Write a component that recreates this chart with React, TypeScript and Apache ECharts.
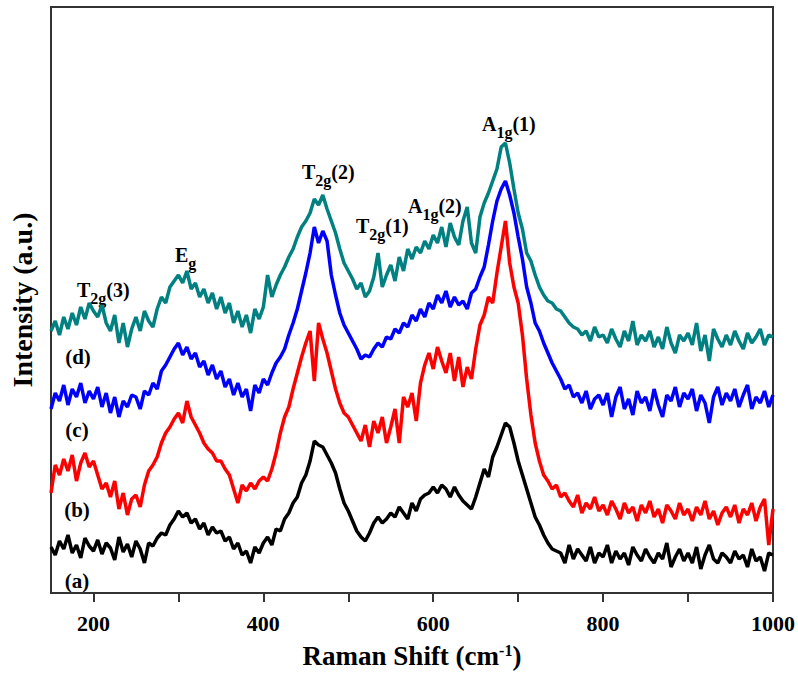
import { useEffect, useRef } from "react";
import * as echarts from "echarts";

// Raman shift sampling grid (cm-1)
const X_START = 150;
const X_STEP = 5;

// Intensities (a.u.) at 150, 155, ..., 1000 cm-1
const sampleA = [
  46, 38, 52, 44, 58, 40, 48, 35, 55, 47,
  42, 53, 39, 50, 45, 33, 56, 41, 49, 36,
  52, 44, 30, 50, 47, 55, 60, 58, 68, 74,
  82, 76, 80, 70, 74, 64, 70, 58, 66, 60,
  62, 52, 56, 44, 50, 38, 42, 30, 46, 40,
  50, 56, 48, 64, 62, 74, 80, 90, 96, 110,
  118, 132, 152, 148, 146, 138, 130, 120, 104, 90,
  82, 72, 62, 56, 52, 60, 70, 76, 70, 74,
  80, 76, 86, 80, 74, 90, 82, 94, 98, 100,
  106, 100, 108, 104, 96, 106, 98, 92, 88, 84,
  96, 110, 124, 116, 136, 146, 158, 170, 166, 150,
  132, 118, 104, 90, 76, 68, 58, 50, 44, 42,
  40, 30, 48, 34, 44, 38, 32, 46, 30, 40,
  36, 48, 30, 42, 34, 40, 28, 46, 38, 32,
  44, 36, 30, 40, 34, 50, 26, 36, 44, 32,
  40, 30, 46, 24, 38, 48, 34, 30, 40, 36,
  30, 42, 34, 38, 26, 44, 32, 36, 22, 40,
  38,
];

const sampleB = [
  100, 128, 118, 134, 122, 138, 112, 130, 140, 126,
  132, 118, 104, 110, 96, 112, 84, 100, 78, 94,
  98, 86, 108, 122, 128, 136, 150, 160, 166, 174,
  180, 170, 192, 176, 168, 160, 150, 144, 140, 132,
  132, 124, 118, 104, 90, 108, 102, 110, 104, 112,
  116, 112, 124, 140, 160, 176, 186, 204, 220, 236,
  250, 262, 212, 270, 254, 240, 222, 204, 190, 180,
  176, 168, 160, 152, 168, 146, 172, 160, 176, 150,
  166, 184, 150, 196, 186, 200, 172, 210, 228, 240,
  224, 246, 232, 220, 240, 212, 236, 206, 226, 214,
  244, 268, 278, 296, 290, 320, 346, 372, 330, 306,
  290, 258, 214, 178, 150, 132, 118, 112, 104, 108,
  96, 100, 92, 86, 98, 80, 90, 84, 96, 82,
  88, 78, 92, 84, 74, 90, 80, 86, 72, 88,
  80, 92, 76, 84, 70, 88, 82, 74, 90, 78,
  84, 72, 86, 78, 92, 74, 82, 68, 80, 86,
  76, 88, 70, 84, 78, 90, 72, 86, 94, 48,
  84,
];

const sampleC = [
  184, 200, 192, 208, 188, 204, 196, 210, 190, 202,
  194, 206, 186, 200, 180, 196, 176, 192, 186, 198,
  196, 184, 202, 198, 210, 204, 222, 228, 236, 244,
  250, 238, 246, 234, 240, 226, 232, 218, 228, 214,
  222, 206, 214, 198, 210, 196, 204, 182, 208, 200,
  214, 208, 220, 230, 236, 244, 258, 270, 284, 302,
  320, 340, 366, 350, 362, 352, 318, 298, 280, 268,
  260, 252, 244, 234, 238, 236, 244, 250, 246, 256,
  254, 264, 260, 270, 266, 278, 272, 284, 276, 290,
  284, 298, 290, 302, 286, 296, 288, 292, 284, 300,
  304, 316, 326, 348, 372, 392, 404, 412, 398, 380,
  356, 334, 306, 290, 270, 262, 250, 240, 230, 222,
  214, 204, 208, 196, 200, 190, 202, 184, 194, 198,
  188, 200, 176, 196, 206, 184, 194, 178, 202, 190,
  196, 182, 204, 188, 176, 198, 192, 206, 186, 200,
  194, 204, 182, 198, 190, 170, 196, 206, 188, 200,
  192, 204, 186, 198, 208, 184, 196, 190, 202, 186,
  198,
];

const sampleD = [
  262, 272, 258, 276, 264, 280, 268, 286, 274, 290,
  282, 276, 288, 270, 262, 278, 250, 270, 246, 264,
  276, 262, 282, 272, 266, 284, 296, 290, 306, 312,
  318, 310, 322, 304, 310, 296, 304, 290, 300, 284,
  296, 280, 290, 270, 282, 266, 278, 260, 284, 274,
  286, 318, 296, 308, 318, 326, 336, 344, 356, 366,
  372, 380, 394, 388, 398, 384, 372, 360, 344, 330,
  322, 314, 304, 310, 296, 302, 316, 340, 306, 318,
  328, 312, 336, 322, 344, 334, 346, 340, 352, 344,
  358, 350, 366, 346, 370, 356, 348, 372, 386, 350,
  340, 376, 390, 400, 412, 424, 446, 450, 430, 404,
  380, 364, 340, 332, 318, 306, 298, 292, 290, 284,
  282, 276, 270, 266, 264, 258, 262, 252, 266, 256,
  258, 250, 264, 254, 246, 262, 252, 272, 248, 258,
  252, 262, 246, 256, 244, 266, 250, 240, 258, 252,
  260, 248, 270, 242, 258, 232, 264, 254, 246, 258,
  248, 262, 252, 244, 260, 250, 256, 264, 248, 258,
  256,
];

const xTickValues = [200, 300, 400, 500, 600, 700, 800, 900, 1000];
const xLabelValues = [200, 400, 600, 800, 1000];
const sampleNames = ["(a)", "(b)", "(c)", "(d)"];
const sampleColors = ["#000000", "#ff0000", "#0000ff", "#008080"];

const peakMain = ["T", "E", "T", "T", "A", "A"];
const peakSub = ["2g", "g", "2g", "2g", "1g", "1g"];
const peakTail = ["(3)", "", "(2)", "(1)", "(2)", "(1)"];

const FONT = '"Liberation Serif", "Times New Roman", serif';

function pairs(vals: number[]) {
  return vals.map((v, i) => [X_START + i * X_STEP, v]);
}

function measure(text: string, size: number) {
  const c = document.createElement("canvas").getContext("2d");
  if (!c) return text.length * size * 0.5;
  c.font = `bold ${size}px ${FONT}`;
  return c.measureText(text).width;
}

const peakPos = [
  [77, 290],
  [175, 255],
  [302, 172],
  [356, 226],
  [408, 206],
  [482, 124],
];
const namePos = [
  [77, 581],
  [77, 510],
  [77, 430],
  [78, 357],
];

export default function App() {
  const ref = useRef<HTMLDivElement>(null);
  useEffect(() => {
    if (!ref.current) return;
    const chart = echarts.init(ref.current, undefined, { renderer: "svg" });
    const mainSize = 20;
    const subSize = 16;
    const graphics: any[] = [];
    peakMain.forEach((m, i) => {
      const [x, y] = peakPos[i];
      const wm = measure(m, mainSize);
      const ws = measure(peakSub[i], subSize);
      const children: any[] = [
        { type: "text", x: 0, y: 0, style: { text: m, font: `bold ${mainSize}px ${FONT}`, fill: "#000", align: "left", verticalAlign: "middle" } },
        { type: "text", x: wm, y: 8, style: { text: peakSub[i], font: `bold ${subSize}px ${FONT}`, fill: "#000", align: "left", verticalAlign: "middle" } },
      ];
      if (peakTail[i]) {
        children.push({ type: "text", x: wm + ws, y: 0, style: { text: peakTail[i], font: `bold ${mainSize}px ${FONT}`, fill: "#000", align: "left", verticalAlign: "middle" } });
      }
      graphics.push({ type: "group", x, y, children });
    });
    sampleNames.forEach((n, i) => {
      graphics.push({
        type: "text",
        x: namePos[i][0],
        y: namePos[i][1],
        style: { text: n, font: `bold 21px ${FONT}`, fill: "#000", align: "center", verticalAlign: "middle" },
      });
    });

    const order = [3, 2, 1, 0];
    const allSeries = [sampleA, sampleB, sampleC, sampleD];

    chart.setOption({
      animation: false,
      backgroundColor: "#fff",
      grid: { left: 51, right: 24, top: 7, bottom: 84, show: true, borderColor: "#333", borderWidth: 2, backgroundColor: "transparent" },
      xAxis: {
        type: "value",
        min: 150,
        max: 1000,
        name: "Raman Shift (cm{sup|-1})",
        nameLocation: "middle",
        nameGap: 49,
        nameTextStyle: {
          fontFamily: FONT,
          fontWeight: "bold",
          fontSize: 27,
          color: "#000",
          rich: {
            sup: { fontFamily: FONT, fontWeight: "bold", fontSize: 16, color: "#000", verticalAlign: "top", lineHeight: 12 },
          },
        },
        axisLine: { show: true, lineStyle: { color: "#333", width: 2 } },
        axisTick: { show: true, customValues: xTickValues, length: 9, lineStyle: { color: "#333", width: 2 } },
        axisLabel: {
          show: true,
          customValues: xLabelValues,
          margin: 19,
          formatter: (v: number) => String(v),
          fontFamily: FONT,
          fontWeight: "bold",
          fontSize: 22,
          color: "#000",
        },
        splitLine: { show: false },
      },
      yAxis: {
        type: "value",
        min: 0,
        max: 586,
        name: "Intensity (a.u.)",
        nameLocation: "middle",
        nameGap: 15,
        nameTextStyle: { fontFamily: FONT, fontWeight: "bold", fontSize: 28, color: "#000" },
        axisLine: { show: true, lineStyle: { color: "#333", width: 2 } },
        axisTick: { show: false },
        axisLabel: { show: false },
        splitLine: { show: false },
      },
      graphic: graphics,
      series: order.map((k) => ({
        type: "line",
        name: sampleNames[k],
        data: pairs(allSeries[k]),
        showSymbol: false,
        symbol: "none",
        lineStyle: { color: sampleColors[k], width: 3.5 },
        itemStyle: { color: sampleColors[k] },
      })),
    });
    return () => chart.dispose();
  }, []);
  return <div ref={ref} style={{ position: "fixed", left: 0, top: 0, width: 798, height: 677 }} />;
}
